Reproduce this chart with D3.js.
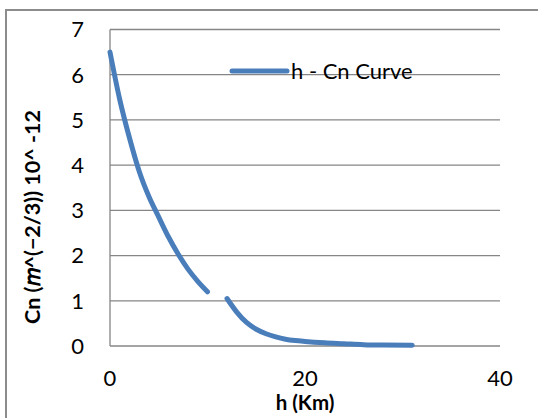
<!DOCTYPE html>
<html><head><meta charset="utf-8">
<script src="https://cdn.jsdelivr.net/npm/d3@7"></script>
<style>body{margin:0;background:#fff}svg{display:block}</style>
</head><body>
<script>
const hValues  = [0,1,2,3,4,5,6,7,8,9,10,11,12,13,14,15,16,17,18,19,20,22,24,26,28,31];
const cnValues = [6.5,5.45,4.6,3.86,3.3,2.85,2.41,2.03,1.7,1.43,1.2,null,1.05,0.75,0.52,0.37,0.27,0.2,0.15,0.12,0.1,0.07,0.05,0.03,0.02,0.015];
const xTicks = [0,20,40];
const yTicks = [0,1,2,3,4,5,6,7];
const seriesName = "h - Cn Curve";
const xTitle = "h (Km)";
const yTitle = "Cn (𝑚^(−2/3)) 10^ -12";

const W=538,H=418;
const svg=d3.select("body").append("svg").attr("width",W).attr("height",H);
svg.append("rect").attr("x",6).attr("y",10).attr("width",W).attr("height",H).attr("fill","#fff").attr("stroke","#8c8c8c").attr("stroke-width",2);

const x=d3.scaleLinear().domain([0,40]).range([110,500]);
const y=d3.scaleLinear().domain([0,7]).range([346,29.5]);
const font="Lato, 'Open Sans', sans-serif";

// gridlines
svg.append("g").selectAll("line").data(yTicks).join("line")
  .attr("x1",x(0)).attr("x2",x(40)).attr("y1",d=>y(d)).attr("y2",d=>y(d))
  .attr("stroke","#868686").attr("stroke-width",1.3);
// y axis line
svg.append("line").attr("x1",x(0)).attr("x2",x(0)).attr("y1",y(7)).attr("y2",y(0))
  .attr("stroke","#868686").attr("stroke-width",1.3);

// y tick labels
svg.append("g").selectAll("text").data(yTicks).join("text")
  .attr("x",84).attr("y",d=>y(d)).attr("dy","0.36em").attr("text-anchor","end")
  .attr("font-family",font).attr("font-size",22).attr("fill","#000").text(d=>d);
// x tick labels
svg.append("g").selectAll("text").data(xTicks).join("text")
  .attr("x",d=>x(d)).attr("y",386).attr("text-anchor","middle")
  .attr("font-family",font).attr("font-size",22).attr("fill","#000").text(d=>d);

// titles
svg.append("text").attr("x",305).attr("y",410).attr("text-anchor","middle")
  .attr("font-family",font).attr("font-weight","bold").attr("font-size",20.5).text(xTitle);
svg.append("text").attr("transform","translate(40,217) rotate(-90)").attr("text-anchor","middle")
  .attr("font-family",font).attr("font-weight","bold").attr("font-size",21.5).text(yTitle);

// line
const data=hValues.map((h,i)=>({h,v:cnValues[i]}));
const line=d3.line().defined(d=>d.v!==null).x(d=>x(d.h)).y(d=>y(d.v)).curve(d3.curveMonotoneX);
svg.append("path").datum(data).attr("d",line).attr("fill","none")
  .attr("stroke","#4a7ebb").attr("stroke-width",5).attr("stroke-linecap","round").attr("stroke-linejoin","round");

// legend
svg.append("line").attr("x1",232).attr("x2",287).attr("y1",71).attr("y2",71)
  .attr("stroke","#4a7ebb").attr("stroke-width",5).attr("stroke-linecap","round");
svg.append("text").attr("x",291).attr("y",78.5).attr("font-family",font).attr("font-size",22).text(seriesName);
</script>
</body></html>
